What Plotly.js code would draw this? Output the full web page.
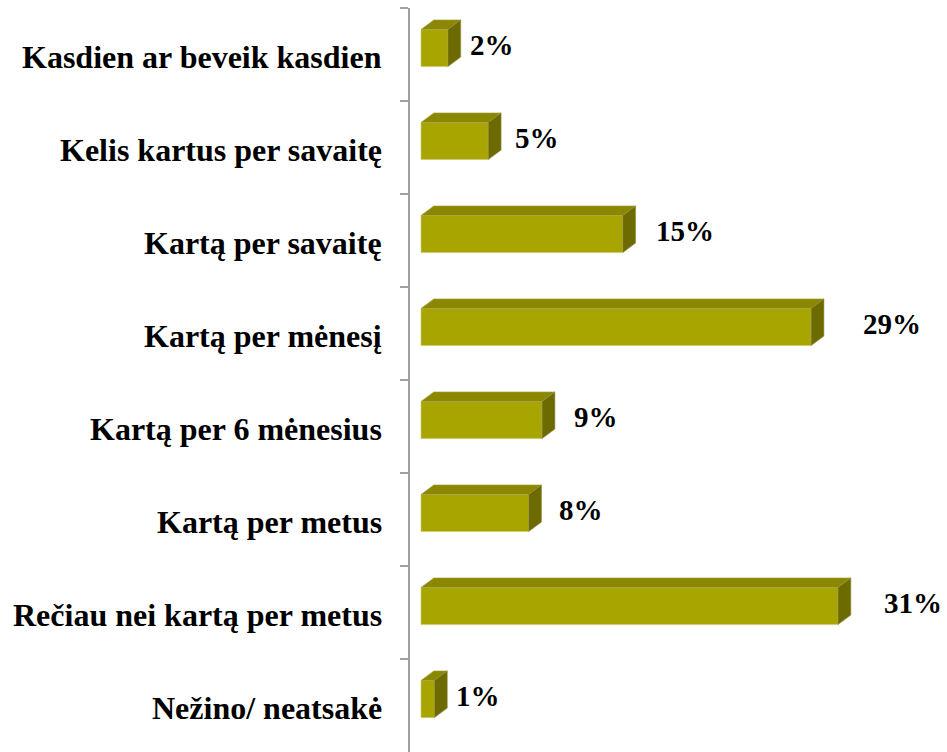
<!DOCTYPE html>
<html>
<head>
<meta charset="utf-8">
<script src="https://cdn.plot.ly/plotly-3.0.1.min.js"></script>
<style>html,body{margin:0;padding:0;background:#fff;}#chart{width:947px;height:752px;}</style>
</head>
<body>
<div id="chart"></div>
<script>
// Data
const categories = [
  "Kasdien ar beveik kasdien",
  "Kelis kartus per savaitę",
  "Kartą per savaitę",
  "Kartą per mėnesį",
  "Kartą per 6 mėnesius",
  "Kartą per metus",
  "Rečiau nei kartą per metus",
  "Nežino/ neatsakė"
];
const values = [2, 5, 15, 29, 9, 8, 31, 1];
const valueLabels = ["2%", "5%", "15%", "29%", "9%", "8%", "31%", "1%"];

// Styling / 3D geometry (in axis units)
const FRONT = "#A9A500", TOP = "#8B8700", SIDE = "#6D6B00";
const barWidth = 0.40, barOffset = -0.27;
const depthX = 0.95, depthY = 0.102;
const FONT = "'Liberation Serif', 'Times New Roman', serif";

const idx = categories.map((_, i) => i);
const traces = [];
traces.push({
  type: "bar", orientation: "h", y: idx, x: values, base: 0,
  width: barWidth, offset: barOffset,
  marker: {color: FRONT, line: {color: "#C9C66A", width: 0.6}},
  hoverinfo: "skip", showlegend: false
});
idx.forEach(i => {
  const v = values[i];
  const yTop = i + barOffset, yBot = i + barOffset + barWidth;
  traces.push({
    type: "scatter", mode: "lines", fill: "toself", fillcolor: TOP,
    x: [0, v, v + depthX, depthX, 0],
    y: [yTop, yTop, yTop - depthY, yTop - depthY, yTop],
    line: {color: "#A6A24A", width: 0.6}, hoverinfo: "skip", showlegend: false
  });
  traces.push({
    type: "scatter", mode: "lines", fill: "toself", fillcolor: SIDE,
    x: [v, v + depthX, v + depthX, v, v],
    y: [yTop, yTop - depthY, yBot - depthY, yBot, yTop],
    line: {color: "#8E8B3A", width: 0.6}, hoverinfo: "skip", showlegend: false
  });
});

const annotations = [];
idx.forEach(i => {
  annotations.push({
    xref: "paper", yref: "y", x: 0, y: i, xanchor: "right", yanchor: "middle",
    xshift: -26, yshift: -2, showarrow: false,
    text: "<b>" + categories[i] + "</b>",
    font: {family: FONT, size: 32, color: "#000"}
  });
  annotations.push({
    xref: "x", yref: "y", x: Math.min(values[i] * 1.1 + 3.1, 36.6), y: i - 0.1,
    xanchor: "center", yanchor: "middle", showarrow: false,
    text: "<b>" + valueLabels[i] + "</b>",
    font: {family: FONT, size: 29, color: "#000"}
  });
});

const boundaries = idx.map(i => i - 0.5);

const layout = {
  width: 947, height: 752,
  margin: {l: 410, r: 0, t: 8, b: 0, pad: 0},
  paper_bgcolor: "#fff", plot_bgcolor: "#fff",
  showlegend: false,
  font: {family: FONT},
  xaxis: {range: [-0.82, 39.1], visible: false, fixedrange: true},
  yaxis: {
    range: [7.5, -0.5], tickmode: "array", tickvals: boundaries,
    showticklabels: false, ticks: "outside", ticklen: 8, tickwidth: 2,
    tickcolor: "#A0A0A0", showline: true, linecolor: "#A0A0A0", linewidth: 2,
    showgrid: false, zeroline: false, fixedrange: true
  },
  annotations: annotations
};

Plotly.newPlot("chart", traces, layout, {displayModeBar: false, staticPlot: true});
</script>
</body>
</html>
